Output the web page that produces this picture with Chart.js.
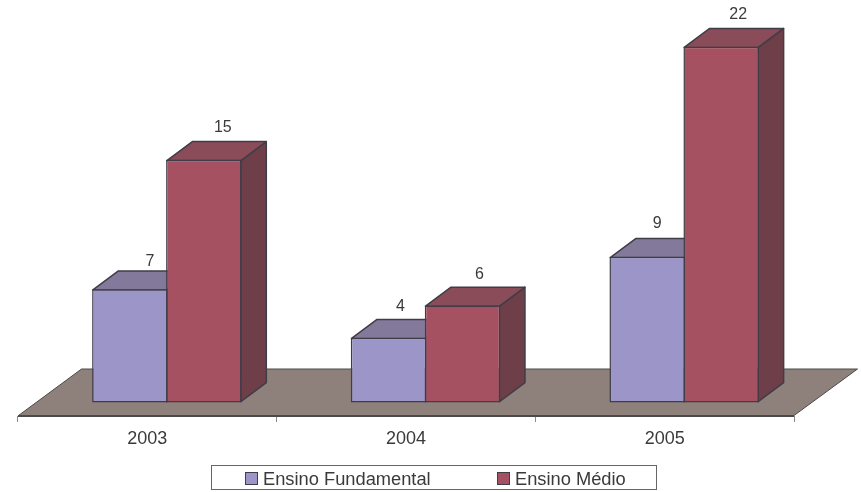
<!DOCTYPE html>
<html>
<head>
<meta charset="utf-8">
<title>Ensino</title>
<script src="https://cdn.jsdelivr.net/npm/chart.js@4"></script>
<style>
  html, body { margin: 0; padding: 0; background: #fff; }
  canvas { display: block; }
</style>
</head>
<body>
<canvas id="myChart" width="861" height="492"></canvas>
<script>
const categories = ['2003', '2004', '2005'];
const fundamental = [7, 4, 9];
const medio = [15, 6, 22];

const fontFamily = '"Liberation Sans", Arial, sans-serif';
const textColor = '#3a3a3a';
const edgeColor = '#403d48';
const barBorder = 1.5;

// bars sit a bit to the right of their category, the way the 3D view does it
const barShift = 19.5;
const depthX = 25.5;
const depthY = 19;
const floorX = 63.5;
const floorY = 47;

// shading of the 3D faces for each series
const faces = [
  { top: '#837a9b', side: '#5f5a78' },
  { top: '#8a4c58', side: '#6f3f49' }
];

// value labels were placed by hand in the original, so each one has its own offset
const labelOffsetX = [[20, 12, 10], [19, 17, 17]];
const labelOffsetY = [[28, 31, 33], [32, 31, 32]];

function face(ctx, points, fill) {
  ctx.beginPath();
  points.forEach((p, i) => (i ? ctx.lineTo(p[0], p[1]) : ctx.moveTo(p[0], p[1])));
  ctx.closePath();
  ctx.fillStyle = fill;
  ctx.fill();
  ctx.stroke();
}

const scene3d = {
  id: 'scene3d',
  beforeDatasetsDraw(chart) {
    const ctx = chart.ctx;
    const area = chart.chartArea;

    // floor
    ctx.save();
    ctx.lineWidth = 1;
    ctx.strokeStyle = '#4a4a4a';
    face(ctx, [
      [area.left + 0.5, area.bottom - 0.5],
      [area.right, area.bottom - 0.5],
      [area.right + floorX, area.bottom - floorY],
      [area.left + floorX, area.bottom - floorY]
    ], '#8e807b');
    ctx.lineWidth = 2;
    ctx.beginPath();
    ctx.moveTo(area.left, area.bottom);
    ctx.lineTo(area.right, area.bottom);
    ctx.stroke();
    ctx.restore();

    ctx.save();
    ctx.translate(barShift, 0);
    ctx.strokeStyle = edgeColor;
    ctx.lineWidth = barBorder;
    ctx.lineJoin = 'round';
    const inset = barBorder / 2;
    chart.data.datasets.forEach((ds, i) => {
      chart.getDatasetMeta(i).data.forEach(bar => {
        const p = bar.getProps(['x', 'y', 'base', 'width'], true);
        const l = p.x - p.width / 2 + inset;
        const r = p.x + p.width / 2 - inset;
        const top = p.y + inset;
        const base = p.base - inset;
        face(ctx, [[r, base], [r + depthX, base - depthY], [r + depthX, top - depthY], [r, top]], faces[i].side);
        face(ctx, [[l, top], [l + depthX, top - depthY], [r + depthX, top - depthY], [r, top]], faces[i].top);
      });
    });
  },
  afterDatasetsDraw(chart) {
    const ctx = chart.ctx;
    ctx.restore();

    // value labels above each bar
    ctx.save();
    ctx.font = '16px ' + fontFamily;
    ctx.fillStyle = textColor;
    ctx.textAlign = 'center';
    ctx.textBaseline = 'middle';
    chart.data.datasets.forEach((ds, i) => {
      chart.getDatasetMeta(i).data.forEach((bar, j) => {
        ctx.fillText(ds.data[j], bar.x + barShift + labelOffsetX[i][j], bar.y - labelOffsetY[i][j]);
      });
    });

    // legend with its frame
    ctx.strokeStyle = '#666';
    ctx.lineWidth = 1;
    ctx.strokeRect(211.5, 465.5, 445, 24);
    ctx.font = '18.3px ' + fontFamily;
    ctx.textAlign = 'left';
    const legendX = [245.5, 497.5];
    chart.data.datasets.forEach((ds, i) => {
      ctx.fillStyle = ds.backgroundColor;
      ctx.strokeStyle = edgeColor;
      ctx.fillRect(legendX[i], 472.5, 12, 12);
      ctx.strokeRect(legendX[i], 472.5, 12, 12);
      ctx.fillStyle = textColor;
      ctx.fillText(ds.label, legendX[i] + 17.5, 480);
    });
    ctx.restore();
  }
};

const ctx = document.getElementById('myChart').getContext('2d');
const myChart = new Chart(ctx, {
  type: 'bar',
  data: {
    labels: categories,
    datasets: [
      { label: 'Ensino Fundamental', data: fundamental, backgroundColor: '#9c95c8', borderColor: edgeColor, borderWidth: barBorder, borderSkipped: false, clip: false },
      { label: 'Ensino Médio', data: medio, backgroundColor: '#a65162', borderColor: edgeColor, borderWidth: barBorder, borderSkipped: false, clip: false }
    ]
  },
  options: {
    responsive: false,
    animation: false,
    layout: { padding: { left: 18, right: 67, top: 0, bottom: 0 } },
    // barPercentage above 1 makes the two inner borders share one line
    datasets: { bar: { categoryPercentage: 0.572, barPercentage: 1.02 } },
    plugins: {
      legend: { display: false },
      tooltip: { enabled: false }
    },
    scales: {
      x: {
        afterFit(scale) { scale.height = 76; },
        border: { display: false },
        grid: { drawOnChartArea: false, color: '#8a8a8a', tickLength: 6, tickWidth: 1 },
        ticks: { color: textColor, font: { family: fontFamily, size: 18 }, padding: 6, maxRotation: 0 }
      },
      y: {
        display: false,
        min: -0.841,
        max: 24.886
      }
    }
  },
  plugins: [scene3d]
});
</script>
</body>
</html>
